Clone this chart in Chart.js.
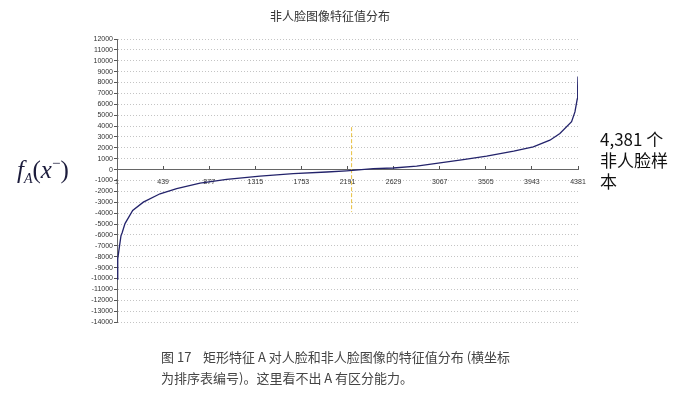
<!DOCTYPE html>
<html>
<head>
<meta charset="utf-8">
<script src="https://cdn.jsdelivr.net/npm/chart.js@4.4.1/dist/chart.umd.min.js"></script>
<style>
  body { margin:0; background:#fff; }
  #wrap { position:relative; width:689px; height:399px; overflow:hidden; }
  #c { position:absolute; left:0; top:0; }
  .txt { position:absolute; white-space:nowrap; }
  #title { left:270px; top:7px; font:12px "Noto Sans CJK SC", sans-serif; color:#333; }
  #fx { left:17px; top:155px; font:25px "Liberation Serif", serif; color:#1c1c3c; }
  #fx sub { font-size:14px; font-style:italic; vertical-align:-5px; }
  #fx sup { font-size:15px; vertical-align:10px; }
  #note { left:600px; top:128px; font:17px/21px "Noto Sans CJK SC", sans-serif; color:#111; white-space:normal; }
  #cap { left:161px; top:346px; font:13px/21px "Noto Sans CJK SC", sans-serif; color:#444; }
</style>
</head>
<body>
<div id="wrap">
  <canvas id="c" width="689" height="399"></canvas>
  <div class="txt" id="title">非人脸图像特征值分布</div>
  <div class="txt" id="fx"><i>f</i><sub>A</sub>(<i>x</i><sup>−</sup>)</div>
  <div class="txt" id="note">4,381 个<br>非人脸样<br>本</div>
  <div class="txt" id="cap">图 17&nbsp;&nbsp;&nbsp; 矩形特征 A 对人脸和非人脸图像的特征值分布 (横坐标<br>为排序表编号)。这里看不出 A 有区分能力。</div>
</div>
<script>
// sorted sample rank (x) and feature value (y)
const rankX = [1, 8, 23, 39, 50, 77, 150, 251, 410, 568, 790, 1043, 1360, 1676, 1993, 2183,
  2436, 2626, 2848, 3070, 3291, 3513, 3770, 3956, 4114, 4209, 4320, 4352, 4374, 4378, 4381];
const featureVal = [-10050, -8200, -7150, -6070, -5800, -4960, -3760, -2990, -2220, -1750, -1240, -900, -590, -370, -220, -110,
  90, 150, 330, 610, 920, 1230, 1700, 2090, 2700, 3320, 4400, 5300, 6500, 7600, 8550];
const xTicks = [1, 439, 877, 1315, 1753, 2191, 2629, 3067, 3505, 3943, 4381];
// dashed marker near the middle of the ranking
const markerRank = [2230, 2230];
const markerVal = [3900, -3900];

const curve = rankX.map((r, i) => ({ x: r, y: featureVal[i] }));
const marker = markerRank.map((r, i) => ({ x: r, y: markerVal[i] }));

const tickFont = { family: 'Liberation Sans', size: 7 };
const plain = v => String(v);

new Chart(document.getElementById('c'), {
  type: 'line',
  data: {
    datasets: [
      { data: curve, borderColor: '#23236b', borderWidth: 1.3, pointRadius: 0, tension: 0, fill: false },
      { data: marker, borderColor: '#e8c040', borderWidth: 1, borderDash: [4, 2], pointRadius: 0, fill: false }
    ]
  },
  options: {
    responsive: false,
    animation: false,
    layout: { padding: { left: 72, right: 111, top: 39, bottom: 77 } },
    plugins: { legend: { display: false }, tooltip: { enabled: false }, title: { display: false } },
    scales: {
      x: {
        type: 'linear',
        min: 1, max: 4381,
        position: { y: 0 },
        afterFit: function(s){ s.height = 0; },
        afterBuildTicks: function(s){ s.ticks = xTicks.map(v => ({ value: v })); },
        grid: { drawOnChartArea: false, tickLength: -4, tickColor: '#555' },
        border: { color: '#666', width: 1 },
        ticks: { font: tickFont, color: '#333', padding: 12, maxRotation: 0, autoSkip: false, callback: plain }
      },
      y: {
        min: -14000, max: 12000,
        afterFit: function(s){ s.width = 45; },
        grid: { color: '#c4c4c4', tickColor: '#555', tickLength: 3 },
        border: { color: '#666', width: 1, dash: [1, 2] },
        ticks: { stepSize: 1000, font: tickFont, color: '#333', padding: 1, autoSkip: false, callback: plain }
      }
    }
  }
});
</script>
</body>
</html>
